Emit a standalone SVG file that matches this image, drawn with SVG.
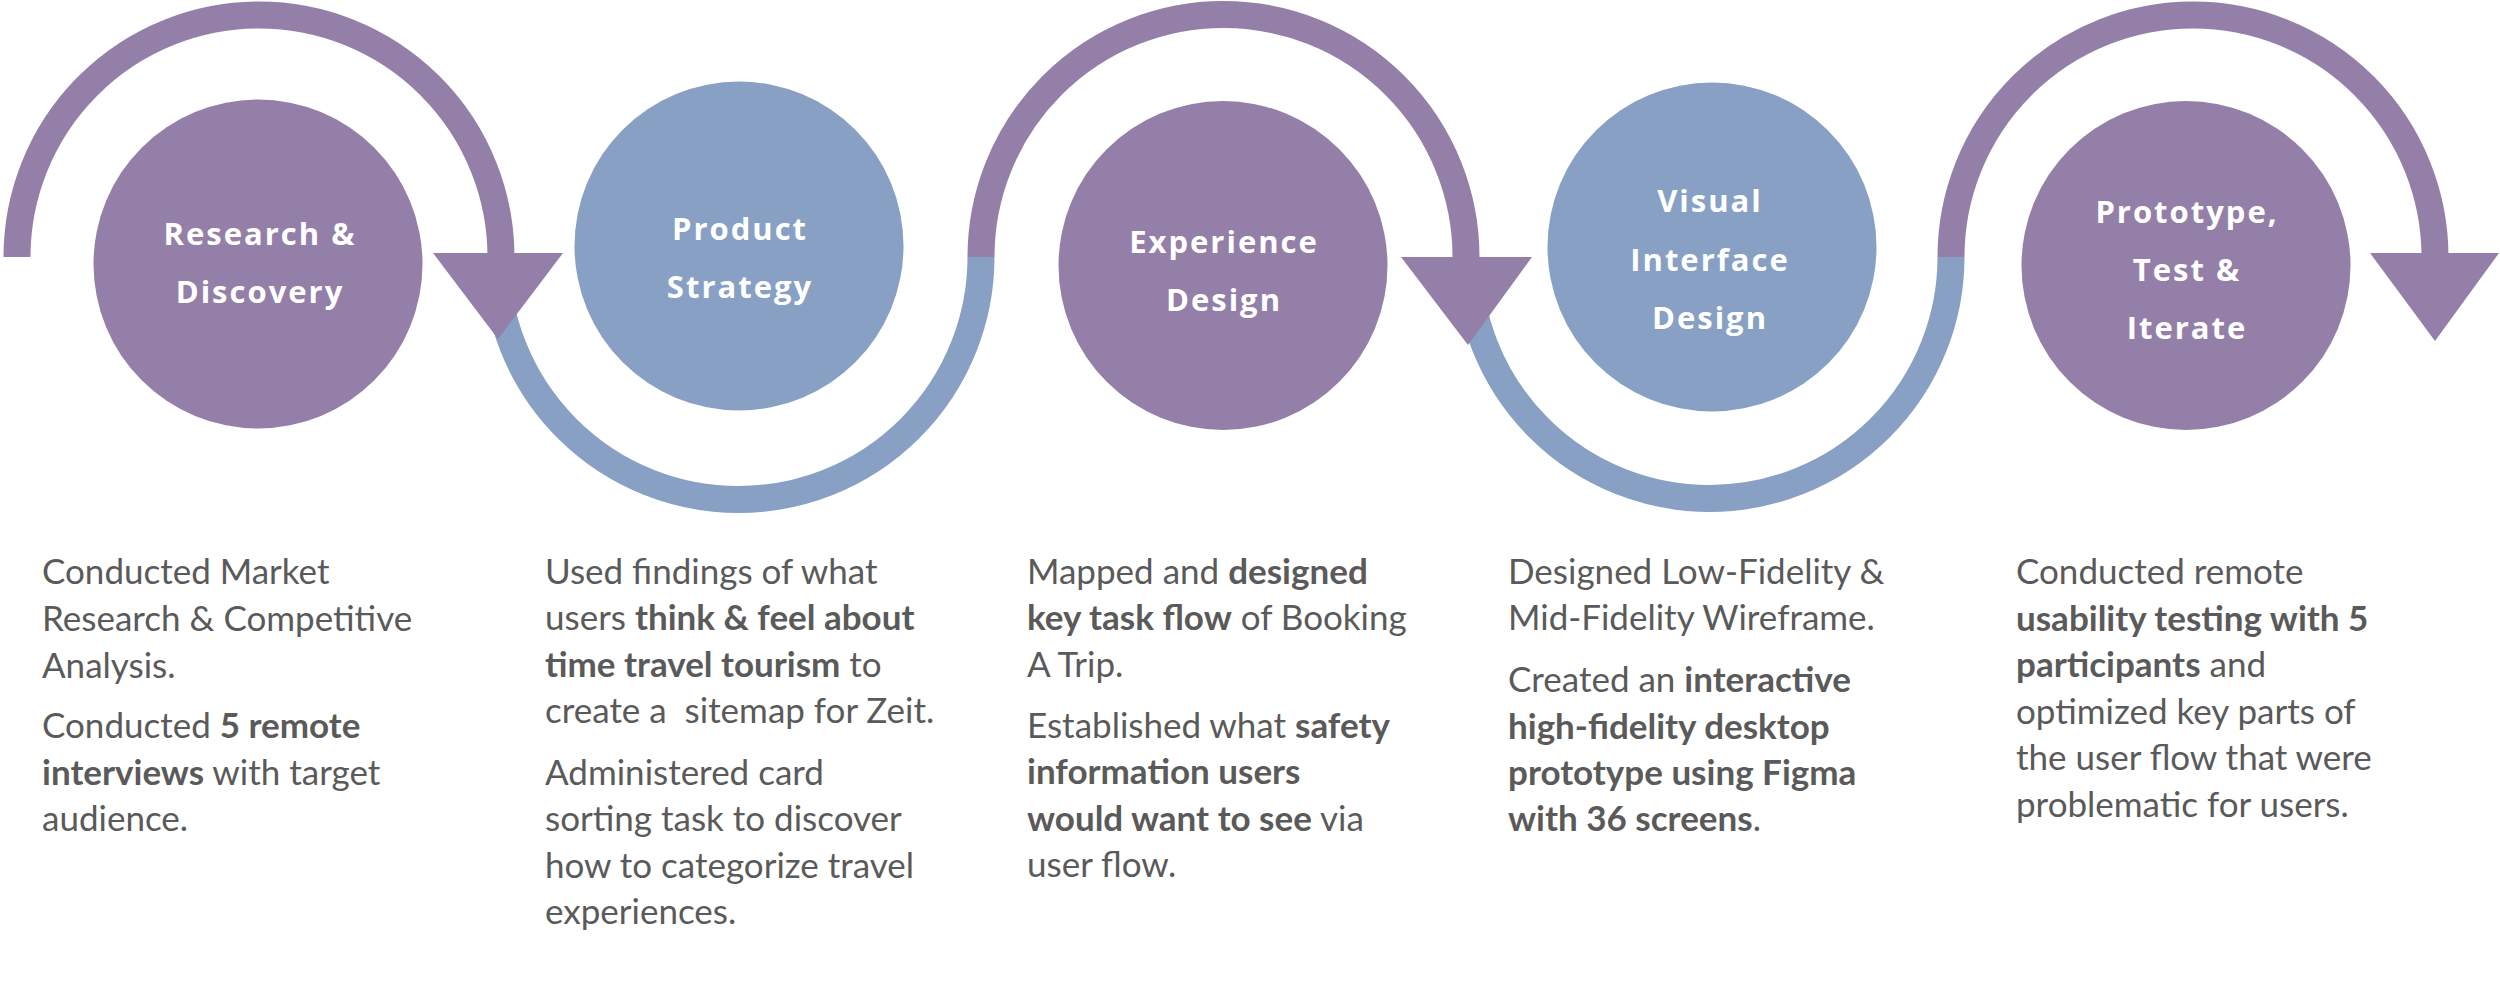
<svg xmlns="http://www.w3.org/2000/svg" width="2500" height="1005" viewBox="0 0 2500 1005">
<style>
.pu{fill:#947FA8}
.bl{fill:#87A0C4}
.ap{fill:none;stroke:#947FA8;stroke-width:27}
.ab{fill:none;stroke:#87A0C4;stroke-width:27}
.ct{font-family:"Open Sans",sans-serif;font-weight:700;font-size:31px;letter-spacing:2px;fill:#ffffff;text-anchor:middle}
.bt{font-family:Lato,"Liberation Sans",sans-serif;font-size:35px;fill:#5a5a5a;white-space:pre}
.b{font-weight:700}
</style>
<rect width="2500" height="1005" fill="#ffffff"/>
<g id="connectors">
<path class="ab" d="M 496 257 A 242 242 0 0 0 981 257"/>
<path class="ab" d="M 1468 257 A 241.5 241.5 0 0 0 1951 257"/>
<path class="ap" d="M 17 257 A 242 242 0 0 1 501 257"/>
<path class="ap" d="M 981 257 A 242.5 242.5 0 0 1 1466 257"/>
<path class="ap" d="M 1951 257 A 242 242 0 0 1 2435 257"/>
<polygon class="pu" points="433,253 563,253 498,339"/>
<polygon class="pu" points="1401,257 1532,257 1468,345"/>
<polygon class="pu" points="2370,253 2499,253 2435,341"/>
</g>
<g id="node-research">
<circle class="pu" cx="258" cy="264" r="164.5"/>
<text class="ct" x="260" y="245">Research &amp;</text>
<text class="ct" x="260" y="303">Discovery</text>
</g>
<g id="node-strategy">
<circle class="bl" cx="739" cy="246" r="164.5"/>
<text class="ct" x="740" y="240">Product</text>
<text class="ct" x="740" y="298">Strategy</text>
</g>
<g id="node-experience">
<circle class="pu" cx="1223" cy="265.5" r="164.5"/>
<text class="ct" x="1224" y="253">Experience</text>
<text class="ct" x="1224" y="311">Design</text>
</g>
<g id="node-visual">
<circle class="bl" cx="1712" cy="247" r="164.5"/>
<text class="ct" x="1710" y="212">Visual</text>
<text class="ct" x="1710" y="271">Interface</text>
<text class="ct" x="1710" y="329">Design</text>
</g>
<g id="node-prototype">
<circle class="pu" cx="2186" cy="265.5" r="164.5"/>
<text class="ct" x="2187" y="223">Prototype,</text>
<text class="ct" x="2187" y="281">Test &amp;</text>
<text class="ct" x="2187" y="339">Iterate</text>
</g>
<g id="text-research">
<text class="bt" x="42" y="584">Conducted Market</text>
<text class="bt" x="42" y="631">Research &amp; Competitive</text>
<text class="bt" x="42" y="678">Analysis.</text>
<text class="bt" x="42" y="738">Conducted <tspan class="b">5 remote</tspan></text>
<text class="bt" x="42" y="785"><tspan class="b">interviews</tspan> with target</text>
<text class="bt" x="42" y="831">audience.</text>
</g>
<g id="text-strategy">
<text class="bt" x="545" y="584">Used findings of what</text>
<text class="bt" x="545" y="630">users <tspan class="b">think &amp; feel about</tspan></text>
<text class="bt" x="545" y="677"><tspan class="b">time travel tourism</tspan> to</text>
<text class="bt" x="545" y="723">create a  sitemap for Zeit.</text>
<text class="bt" x="545" y="785">Administered card</text>
<text class="bt" x="545" y="831">sorting task to discover</text>
<text class="bt" x="545" y="878">how to categorize travel</text>
<text class="bt" x="545" y="924">experiences.</text>
</g>
<g id="text-experience">
<text class="bt" x="1027" y="584">Mapped and <tspan class="b">designed</tspan></text>
<text class="bt" x="1027" y="630"><tspan class="b">key task flow</tspan> of Booking</text>
<text class="bt" x="1027" y="677">A Trip.</text>
<text class="bt" x="1027" y="738">Established what <tspan class="b">safety</tspan></text>
<text class="bt" x="1027" y="784"><tspan class="b">information users</tspan></text>
<text class="bt" x="1027" y="831"><tspan class="b">would want to see</tspan> via</text>
<text class="bt" x="1027" y="877">user flow.</text>
</g>
<g id="text-visual">
<text class="bt" x="1508" y="584">Designed Low-Fidelity &amp;</text>
<text class="bt" x="1508" y="630">Mid-Fidelity Wireframe.</text>
<text class="bt" x="1508" y="692">Created an <tspan class="b">interactive</tspan></text>
<text class="bt" x="1508" y="739"><tspan class="b">high-fidelity desktop</tspan></text>
<text class="bt" x="1508" y="785"><tspan class="b">prototype using Figma</tspan></text>
<text class="bt" x="1508" y="831"><tspan class="b">with 36 screens</tspan>.</text>
</g>
<g id="text-prototype">
<text class="bt" x="2016" y="584">Conducted remote</text>
<text class="bt" x="2016" y="631"><tspan class="b">usability testing with 5</tspan></text>
<text class="bt" x="2016" y="677"><tspan class="b">participants</tspan> and</text>
<text class="bt" x="2016" y="724">optimized key parts of</text>
<text class="bt" x="2016" y="770">the user flow that were</text>
<text class="bt" x="2016" y="817">problematic for users.</text>
</g>
</svg>
